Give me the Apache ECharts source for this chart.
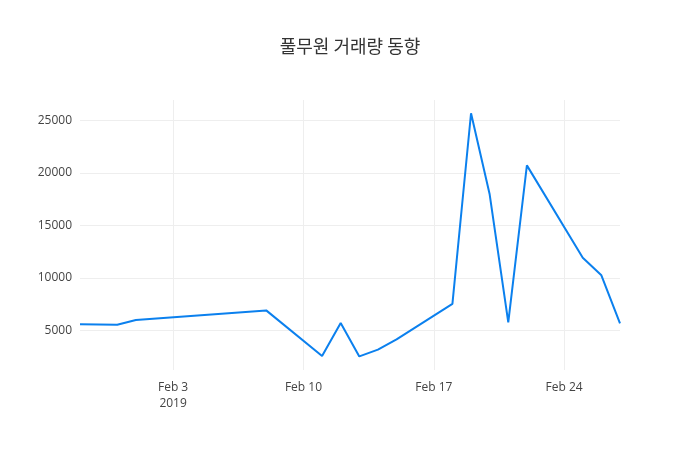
<!DOCTYPE html>
<html>
<head>
<meta charset="utf-8">
<script src="https://cdn.jsdelivr.net/npm/echarts@6/dist/echarts.min.js"></script>
<style>
html, body { margin: 0; padding: 0; background: #fff; }
#main { width: 700px; height: 450px; }
</style>
</head>
<body>
<div id="main"></div>
<script>
// trading days and volume
var dates = ['2019-01-29','2019-01-31','2019-02-01','2019-02-08','2019-02-11','2019-02-12',
    '2019-02-13','2019-02-14','2019-02-15','2019-02-18','2019-02-19','2019-02-20',
    '2019-02-21','2019-02-22','2019-02-25','2019-02-26','2019-02-27'];
var volume = [5610, 5570, 6010, 6930, 2600, 5730, 2560, 3200, 4180, 7540, 25650, 17950,
    5800, 20700, 11930, 10260, 5700];
var xTicks = ['2019-02-03','2019-02-10','2019-02-17','2019-02-24'];
var yTicks = [5000, 10000, 15000, 20000, 25000];
var months = ['Jan','Feb','Mar','Apr','May','Jun','Jul','Aug','Sep','Oct','Nov','Dec'];

function ts(s) { return new Date(s + 'T00:00:00').getTime(); }

var seriesData = dates.map(function (d, i) { return [ts(d), volume[i]]; });
var xTickVals = xTicks.map(ts);

var option = {
    animation: false,
    backgroundColor: '#fff',
    textStyle: { fontFamily: 'Open Sans' },
    title: {
        text: '풀무원 거래량 동향',
        left: 'center',
        top: 32,
        textStyle: { fontFamily: 'Noto Sans CJK KR', fontSize: 18, fontWeight: 'normal', color: '#333' }
    },
    grid: { left: 80, right: 80, top: 100, bottom: 80, containLabel: false },
    xAxis: {
        type: 'value',
        min: ts(dates[0]),
        max: ts(dates[dates.length - 1]),
        axisLine: { show: false },
        axisTick: { show: false, customValues: xTickVals },
        splitLine: { show: true, lineStyle: { color: '#eee', width: 1 } },
        axisLabel: {
            customValues: xTickVals,
            color: '#444',
            fontSize: 12,
            margin: 10,
            lineHeight: 16,
            formatter: function (v) {
                var d = new Date(v);
                var s = months[d.getMonth()] + ' ' + d.getDate();
                if (d.getDate() === 3) s += '\n' + d.getFullYear();
                return s;
            }
        }
    },
    yAxis: {
        type: 'value',
        min: 1268,
        max: 26909,
        axisLine: { show: false },
        axisTick: { show: false, customValues: yTicks },
        splitLine: { show: true, lineStyle: { color: '#eee', width: 1 } },
        axisLabel: {
            customValues: yTicks, color: '#444', fontSize: 12, margin: 8,
            formatter: function (v) { return String(v); }
        }
    },
    series: [{
        type: 'line',
        data: seriesData,
        showSymbol: false,
        lineStyle: { color: '#0b80ee', width: 2 },
        itemStyle: { color: '#0b80ee' }
    }]
};

var myChart = echarts.init(document.getElementById('main'));
myChart.setOption(option);
</script>
</body>
</html>
